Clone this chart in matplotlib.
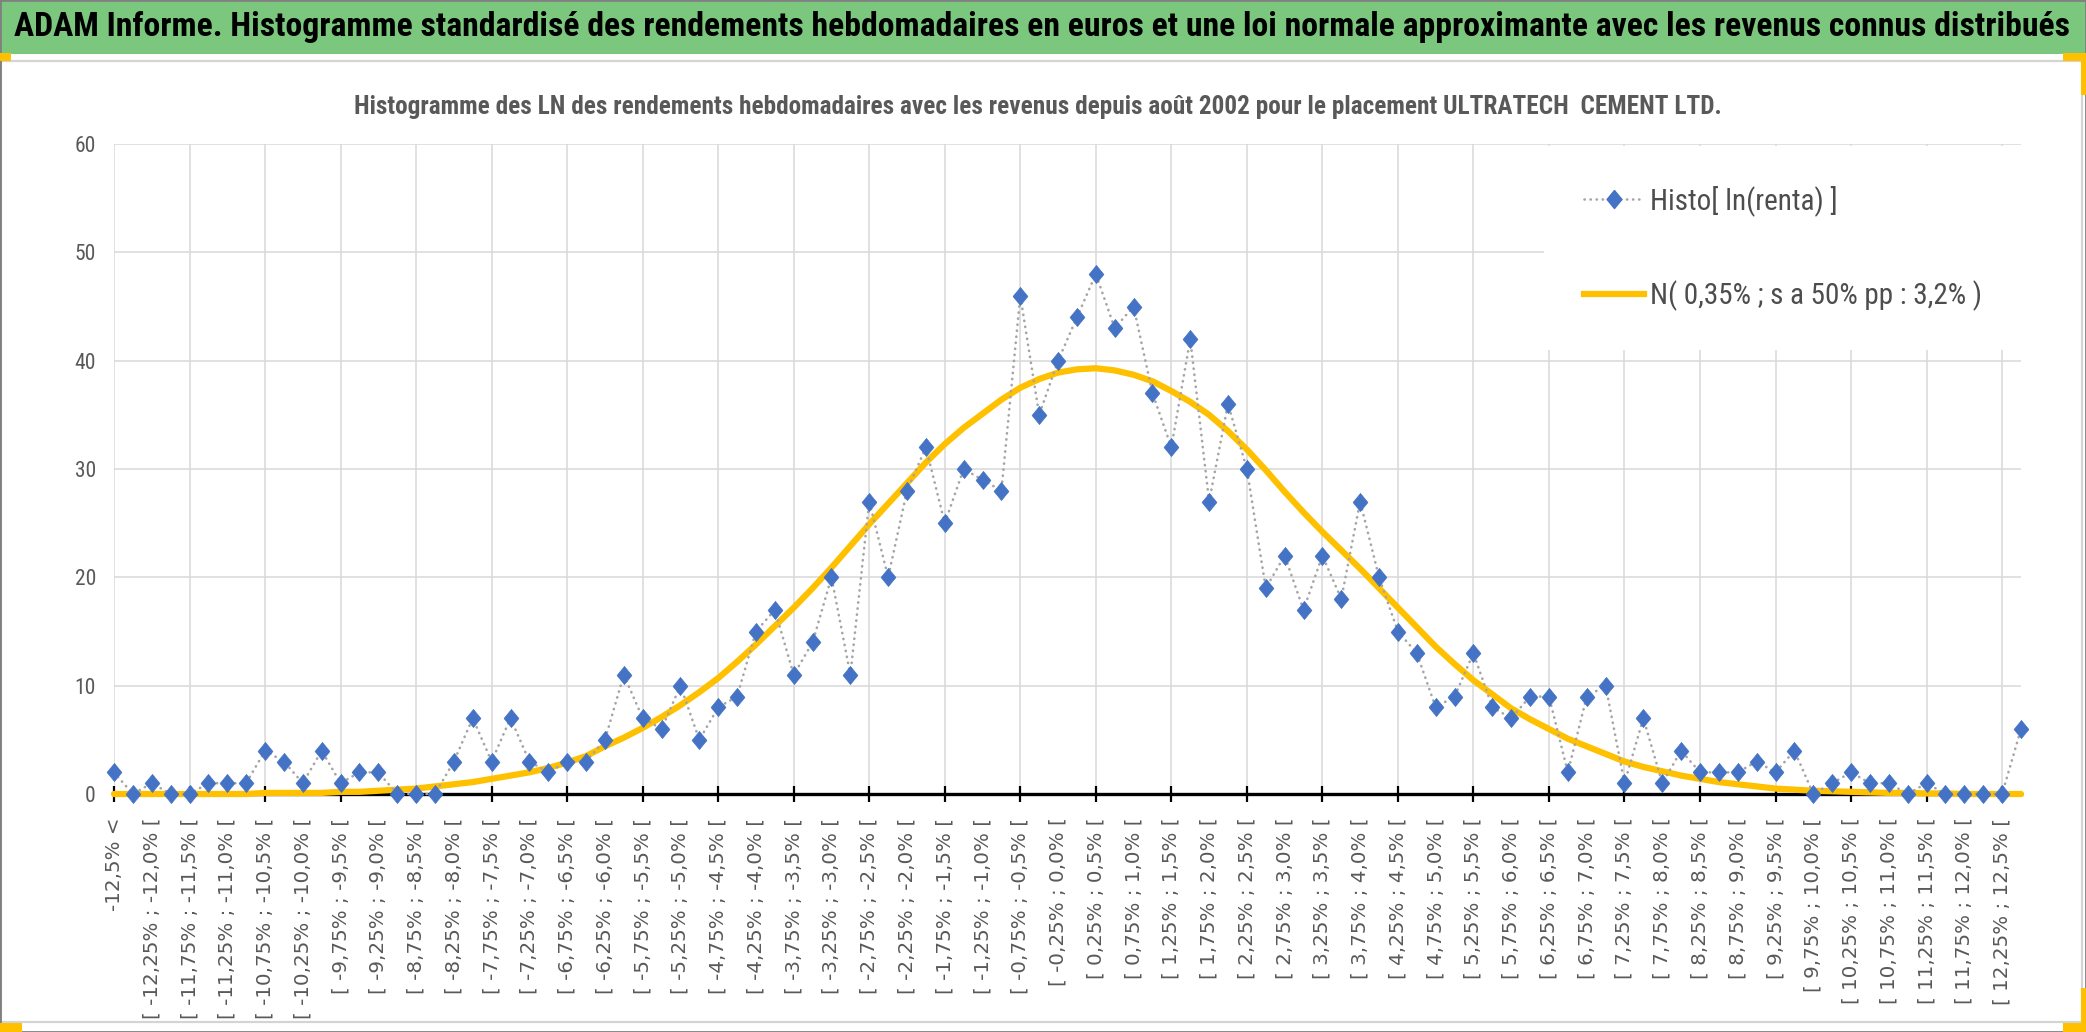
import numpy as np
import matplotlib
matplotlib.use("Agg")
import matplotlib.pyplot as plt
from matplotlib import font_manager as fm
from matplotlib.patches import Rectangle
from matplotlib.lines import Line2D

# --- donnees ---
histo = [2, 0, 1, 0, 0, 1, 1, 1, 4, 3,
         1, 4, 1, 2, 2, 0, 0, 0, 3, 7,
         3, 7, 3, 2, 3, 3, 5, 11, 7, 6,
         10, 5, 8, 9, 15, 17, 11, 14, 20, 11,
         27, 20, 28, 32, 25, 30, 29, 28, 46, 35,
         40, 44, 48, 43, 45, 37, 32, 42, 27, 36,
         30, 19, 22, 17, 22, 18, 27, 20, 15, 13,
         8, 9, 13, 8, 7, 9, 9, 2, 9, 10,
         1, 7, 1, 4, 2, 2, 2, 3, 2, 4,
         0, 1, 2, 1, 1, 0, 1, 0, 0, 0,
         0, 6]

normale = [0.0, 0.0, 0.0, 0.0, 0.0, 0.0, 0.0, 0.0, 0.1, 0.1,
           0.1, 0.1, 0.2, 0.2, 0.3, 0.4, 0.5, 0.7, 0.9, 1.1,
           1.4, 1.7, 2.0, 2.4, 2.9, 3.5, 4.4, 5.2, 6.1, 7.1,
           8.2, 9.4, 10.7, 12.2, 13.8, 15.5, 17.2, 19.0, 20.9, 22.9,
           24.9, 26.8, 28.7, 30.6, 32.3, 33.8, 35.1, 36.4, 37.5, 38.3,
           38.9, 39.2, 39.3, 39.1, 38.7, 38.1, 37.2, 36.2, 35.0, 33.5,
           31.8, 29.9, 27.9, 26.0, 24.2, 22.5, 20.8, 19.0, 17.2, 15.4,
           13.6, 12.0, 10.5, 9.2, 7.9, 6.9, 6.0, 5.1, 4.4, 3.7,
           3.0, 2.5, 2.1, 1.7, 1.4, 1.1, 0.9, 0.7, 0.5, 0.4,
           0.3, 0.25, 0.2, 0.15, 0.1, 0.1, 0.05, 0.05, 0.0, 0.0,
           0.0, 0.0]

bornes_basses = [-12.5 + 0.25 * k for k in range(100)]
pas = 0.25


def pct(v):
    s = f"{round(v, 2):.2f}".rstrip("0")
    if s.endswith("."):
        s += "0"
    if s == "-0.0":
        s = "0.0"
    return s.replace(".", ",") + "%"


categories = (["-12,5% <"]
              + [f"[ {pct(b)} ; {pct(b + pas)} [" for b in bornes_basses]
              + ["12,5% <="])

titre_haut = ("ADAM Informe. Histogramme standardisé des rendements hebdomadaires en euros "
              "et une loi normale approximante avec les revenus connus distribués")
titre = ("Histogramme des LN des rendements hebdomadaires avec les revenus depuis août 2002 "
         "pour le placement ULTRATECH  CEMENT LTD.")
nom_histo = "Histo[ ln(renta) ]"
nom_normale = "N( 0,35% ; s a 50% pp : 3,2% )"

# --- polices ---
dispo = {f.name for f in fm.fontManager.ttflist}
etroite = next((n for n in ["Liberation Sans Narrow", "Roboto Condensed",
                            "Open Sans Condensed", "Lato", "Open Sans"] if n in dispo),
               "DejaVu Sans")

W, H = 2086, 1032
fig = plt.figure(figsize=(W / 100, H / 100), dpi=100)
fig.patch.set_facecolor("white")

# bandeau vert + cadre
fig.patches.append(Rectangle((0, 1 - 54 / H), 1, 54 / H, transform=fig.transFigure,
                             facecolor="#7BC77E", edgecolor="none", zorder=-2))
fig.patches.append(Rectangle((1 / W, 1 - 1022 / H), 2081 / W, 961 / H, transform=fig.transFigure,
                             facecolor="white", edgecolor="#D4D4D4", lw=1.6, zorder=-2))
fig.patches.append(Rectangle((0, 0), 1, 1, transform=fig.transFigure,
                             facecolor="none", edgecolor="#808080", lw=2, zorder=5))
# poignees orange
for (px, py, w, h) in [(0, 53, 11, 8), (2063, 53, 23, 8), (2081, 53, 5, 42),
                       (0, 1023, 22, 9), (2063, 1023, 23, 9), (2081, 988, 5, 44)]:
    fig.patches.append(Rectangle((px / W, 1 - (py + h) / H), w / W, h / H,
                                 transform=fig.transFigure, facecolor="#FFC000",
                                 edgecolor="none", zorder=6))

renderer = fig.canvas.get_renderer()


def ajuste(t, largeur):
    bb = t.get_window_extent(renderer=renderer)
    t.set_fontsize(t.get_fontsize() * largeur / bb.width)


th = fig.text(1042 / W, 1 - 27 / H, titre_haut, ha="center", va="center",
              fontsize=20, fontweight="bold", color="black", family=etroite)
ajuste(th, 2052)
tt = fig.text(1038 / W, 1 - 107 / H, titre, ha="center", va="center",
              fontsize=14, fontweight="bold", color="#595959", family=etroite)
ajuste(tt, 1373)

# taille de legende
tmp = fig.text(0, 0, nom_normale, fontsize=10, family=etroite)
taille_leg = 10 * 330 / tmp.get_window_extent(renderer=renderer).width
tmp.remove()

# losange un peu plus haut que large, comme dans Excel
losange = [(0, 1), (0.82, 0), (0, -1), (-0.82, 0), (0, 1)]

# --- axes ---
x0, x1, yb, yt = 114, 2021, 794, 144
ax = fig.add_axes([x0 / W, 1 - yb / H, (x1 - x0) / W, (yb - yt) / H])
ax.set_zorder(2)
ax.set_facecolor("none")
x = np.arange(len(categories))

ax.plot(x, normale, color="#FFC000", lw=4.5, solid_capstyle="round",
        zorder=3, clip_on=False, label=nom_normale)
ax.plot(x, histo, color="#A5A5A5", lw=1.9, linestyle=(0, (0.1, 2.2)),
        dash_capstyle="round", marker=losange, markersize=13, markerfacecolor="#4472C4",
        markeredgecolor="#4472C4", markeredgewidth=0.5, zorder=4, clip_on=False,
        label=nom_histo)

ax.set_xlim(0, len(categories) - 1)
ax.set_ylim(0, 60)
ax.set_yticks(range(0, 61, 10))
ax.tick_params(axis="y", length=0, pad=13, labelsize=15.5, labelcolor="#595959")
for lab in ax.get_yticklabels():
    lab.set_family(etroite)

ax.set_xticks(x[::2])
ax.set_xticklabels(categories[::2], rotation=90, va="top", ha="center")
ax.set_xticks(x[:101:4], minor=True)
ax.xaxis.remove_overlapping_locs = False
ax.tick_params(axis="x", which="major", length=0, pad=17, labelsize=14.3,
               labelcolor="#595959")
ax.tick_params(axis="x", which="minor", direction="inout", length=11, width=1.6,
               color="black")

ax.set_axisbelow(True)
ax.grid(axis="y", color="#D9D9D9", lw=1.1)
ax.grid(axis="x", which="minor", color="#D9D9D9", lw=1.1)
ax.grid(axis="x", which="major", visible=False)
for s in ["left", "right", "top"]:
    ax.spines[s].set_visible(False)
ax.spines["bottom"].set_linewidth(2.4)
ax.spines["bottom"].set_color("black")

h_histo = Line2D([], [], color="#A5A5A5", lw=1.9, linestyle=(0, (0.1, 2.2)),
                 dash_capstyle="round", marker=losange, markersize=13,
                 markerfacecolor="#4472C4", markeredgecolor="#4472C4")
h_norm = Line2D([], [], color="#FFC000", lw=4.5)
fpx = taille_leg * 100 / 72
leg = ax.legend([h_histo, h_norm], [nom_histo, nom_normale], loc="upper right",
                bbox_to_anchor=(1.0, 1.0 - 2 / (yb - yt)), borderaxespad=0,
                prop={"family": etroite, "size": taille_leg}, labelcolor="#4D4D4D",
                frameon=True, facecolor="white", edgecolor="none", framealpha=1,
                fancybox=False, handlelength=60 / fpx, handletextpad=6 / fpx,
                labelspacing=(93 - fpx) / fpx, borderpad=1.35, numpoints=1)
leg.get_frame().set_linewidth(0)

fig.savefig("out.png", dpi=100)
